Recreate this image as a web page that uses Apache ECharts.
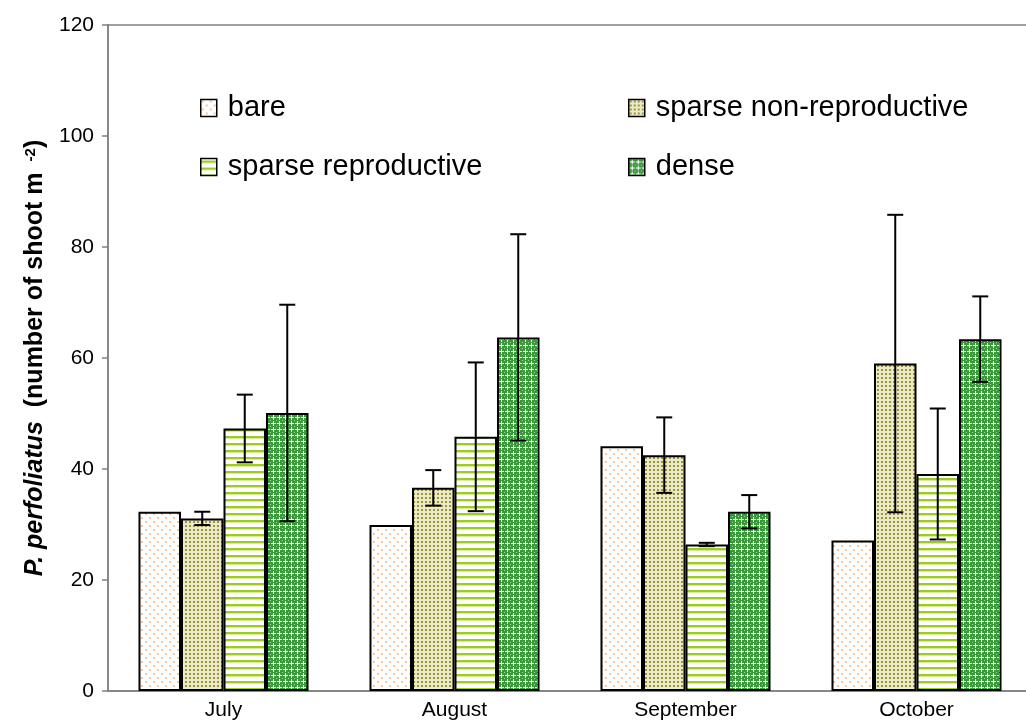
<!DOCTYPE html>
<html><head><meta charset="utf-8">
<script src="https://cdn.jsdelivr.net/npm/echarts@6/dist/echarts.min.js"></script>
<style>html,body{margin:0;padding:0;background:#fff}#c{width:1026px;height:726px}</style>
</head><body><div id="c"></div>
<script>
const months = ['July', 'August', 'September', 'October'];
const seriesNames = ['bare', 'sparse non-reproductive', 'sparse reproductive', 'dense'];
const bare = [32.3, 29.9, 44.1, 27.1];
const sparseNonRepro = [31.1, 36.6, 42.5, 59.0];
const sparseRepro = [47.3, 45.8, 26.4, 39.1];
const dense = [50.1, 63.7, 32.3, 63.4];
const sparseNonReproErr = [1.2, 3.2, 6.8, 26.8];
const sparseReproErr = [6.1, 13.4, 0.3, 11.8];
const denseErr = [19.5, 18.6, 3.0, 7.7];
const yMin = 0, yMax = 120, yStep = 20;

function pat(w, h, draw) {
  const c = document.createElement('canvas');
  c.width = w; c.height = h;
  const g = c.getContext('2d');
  draw(g);
  return { image: c, repeat: 'repeat' };
}
const patBare = pat(8, 8, g => {
  g.fillStyle = '#ffffff'; g.fillRect(0, 0, 8, 8);
  g.fillStyle = '#f8c498'; g.fillRect(1, 1, 2, 2); g.fillRect(5, 5, 2, 2);
});
const patSNR = pat(4, 4, g => {
  g.fillStyle = '#eceac6'; g.fillRect(0, 0, 4, 4);
  g.fillStyle = '#98963f'; g.fillRect(1, 1, 2, 2);
});
const patSR = pat(4, 7, g => {
  g.fillStyle = '#ffffff'; g.fillRect(0, 0, 4, 7);
  g.fillStyle = '#9ccc1e'; g.fillRect(0, 2, 4, 2);
  g.fillStyle = '#d6ec9c'; g.fillRect(0, 4, 4, 1);
});
const patDense = pat(6, 6, g => {
  g.fillStyle = '#3a9a3a'; g.fillRect(0, 0, 6, 6);
  g.fillStyle = '#ffffff';
  g.fillRect(3, 1, 1, 5); g.fillRect(1, 3, 5, 1);
  g.fillStyle = '#9fd09f'; g.fillRect(0, 0, 1, 1);
});
const patterns = [patBare, patSNR, patSR, patDense];
const values = [bare, sparseNonRepro, sparseRepro, dense];
const errs = [null, sparseNonReproErr, sparseReproErr, denseErr];
const gapFrac = 0.264;

const series = [];
values.forEach((vals, i) => {
  series.push({
    type: 'bar', name: seriesNames[i], data: vals,
    barGap: '0%', barCategoryGap: (gapFrac * 100) + '%',
    itemStyle: { color: patterns[i], borderColor: '#000', borderWidth: 2 },
    emphasis: { disabled: true }, silent: true
  });
});
errs.forEach((e, idx) => {
  if (!e) return;
  series.push({
    type: 'custom', name: seriesNames[idx] + ' error', silent: true, z: 10,
    encode: { x: 0, y: [1, 2] },
    data: values[idx].map((v, i) => [i, v - e[i], v + e[i]]),
    renderItem: (params, api) => {
      const ci = api.value(0);
      const lo = api.coord([ci, api.value(1)]);
      const hi = api.coord([ci, api.value(2)]);
      const band = api.size([1, 0])[0];
      const bw = band * (1 - gapFrac) / 4;
      const x = lo[0] + (idx - 1.5) * bw;
      const cap = 8;
      const st = { stroke: '#000', lineWidth: 2 };
      return { type: 'group', children: [
        { type: 'line', shape: { x1: x, y1: lo[1], x2: x, y2: hi[1] }, style: st },
        { type: 'line', shape: { x1: x - cap, y1: hi[1], x2: x + cap, y2: hi[1] }, style: st },
        { type: 'line', shape: { x1: x - cap, y1: lo[1], x2: x + cap, y2: lo[1] }, style: st }
      ]};
    }
  });
});

const legendText = { fontSize: 29, color: '#000', lineHeight: 32, padding: [0, 0, 0, 6] };
const legendBase = { orient: 'vertical', top: 87, itemGap: 27, icon: 'rect',
  itemWidth: 16, itemHeight: 17, textStyle: legendText, selectedMode: false,
  itemStyle: { borderColor: '#000', borderWidth: 1.5 } };
const chart = echarts.init(document.getElementById('c'), null, { renderer: 'canvas' });
chart.setOption({
  animation: false,
  textStyle: { fontFamily: 'Liberation Sans, Arial, sans-serif' },
  grid: { left: 108, width: 924, top: 25, bottom: 35, show: true, borderColor: '#808080', borderWidth: 1.5,
    outerBoundsMode: 'none', containLabel: false },
  legend: [
    Object.assign({}, legendBase, { data: [seriesNames[0], seriesNames[2]], left: 195 }),
    Object.assign({}, legendBase, { data: [seriesNames[1], seriesNames[3]], left: 623 })
  ],
  xAxis: {
    type: 'category', data: months,
    axisLine: { lineStyle: { color: '#808080', width: 1.5 } },
    axisTick: { show: false },
    axisLabel: { fontSize: 21, color: '#000', margin: 9 }
  },
  yAxis: {
    type: 'value', min: yMin, max: yMax, interval: yStep,
    axisLine: { show: true, lineStyle: { color: '#808080', width: 1.5 } },
    axisTick: { show: true, length: 6, lineStyle: { color: '#808080', width: 1.5 } },
    splitLine: { show: false },
    axisLabel: { fontSize: 21, color: '#000', margin: 14 },
    name: '{i|P. perfoliatus}{b|  (number of shoot m }{s| -2}{b|)}',
    nameLocation: 'middle', nameGap: 53,
    nameTextStyle: {
      rich: {
        i: { fontStyle: 'italic', fontWeight: 'bold', fontSize: 25, color: '#000' },
        b: { fontWeight: 'bold', fontSize: 25, color: '#000' },
        s: { fontWeight: 'bold', fontSize: 15, color: '#000', verticalAlign: 'top' }
      }
    }
  },
  series: series
});
</script>
</body></html>
